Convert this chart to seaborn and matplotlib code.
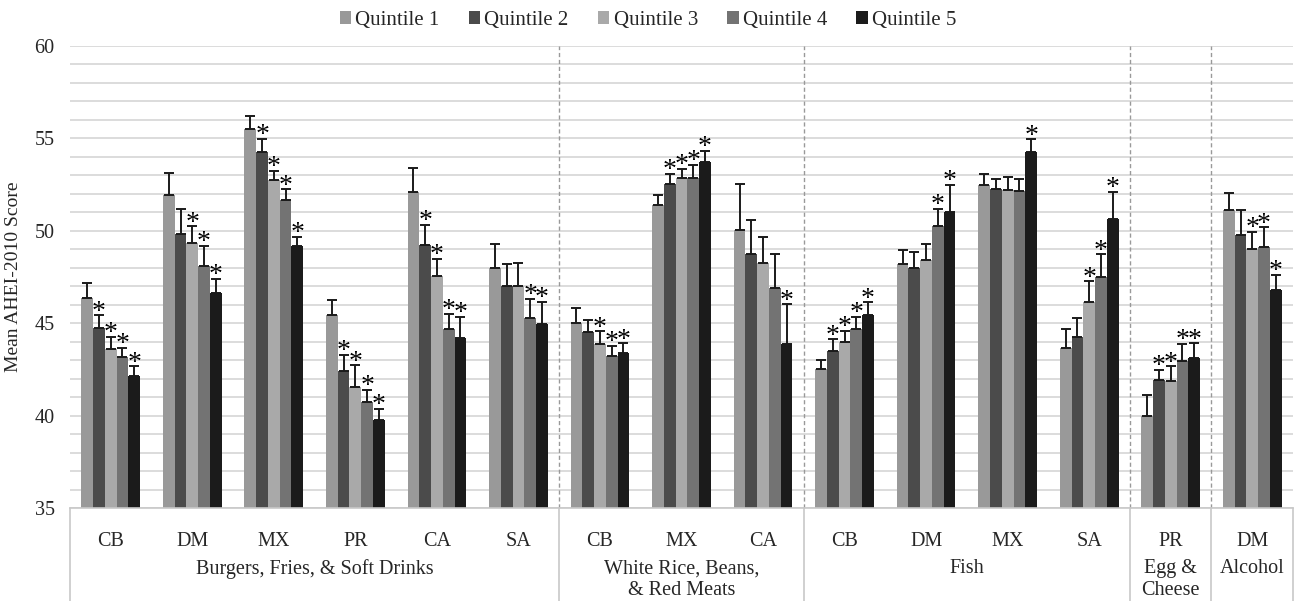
import numpy as np
import pandas as pd
import matplotlib
matplotlib.use("Agg")
import matplotlib.pyplot as plt
import seaborn as sns

# Kategori (sumbu x) dan kelompok pola makan
cats = ["CB", "DM", "MX", "PR", "CA", "SA", "CB", "MX", "CA", "CB", "DM", "MX", "SA", "PR", "DM"]
group_names = ["Burgers, Fries, & Soft Drinks", "White Rice, Beans,\n& Red Meats", "Fish",
               "Egg &\nCheese", "Alcohol"]
group_sizes = [6, 3, 4, 1, 1]
quintiles = ["Quintile 1", "Quintile 2", "Quintile 3", "Quintile 4", "Quintile 5"]

# Rata-rata skor per kuintil
q1 = [46.37, 51.96, 55.52, 45.45, 52.11, 48.00, 45.00, 51.42, 50.02, 42.53, 48.18, 52.49, 43.67, 39.97, 51.13]
q2 = [44.75, 49.82, 54.29, 42.39, 49.24, 47.00, 44.51, 52.52, 48.77, 43.50, 48.01, 52.27, 44.28, 41.90, 49.78]
q3 = [43.63, 49.35, 52.74, 41.54, 47.56, 47.00, 43.88, 52.83, 48.27, 44.00, 48.41, 52.23, 46.17, 41.85, 49.00]
q4 = [43.18, 48.10, 51.69, 40.71, 44.68, 45.29, 43.25, 52.88, 46.90, 44.66, 50.27, 52.13, 47.49, 42.96, 49.15]
q5 = [42.15, 46.61, 49.17, 39.74, 44.19, 44.98, 43.41, 53.70, 43.85, 45.42, 50.99, 54.25, 50.63, 43.13, 46.77]

# Error bar atas
e1 = [0.80, 1.19, 0.68, 0.80, 1.30, 1.30, 0.83, 0.53, 2.52, 0.50, 0.77, 0.59, 1.01, 1.13, 0.94]
e2 = [0.67, 1.38, 0.69, 0.91, 1.10, 1.21, 0.64, 0.58, 1.83, 0.62, 0.85, 0.52, 1.01, 0.58, 1.35]
e3 = [0.63, 0.90, 0.52, 1.19, 0.92, 1.25, 0.69, 0.52, 1.40, 0.59, 0.90, 0.67, 1.10, 0.81, 0.95]
e4 = [0.50, 1.09, 0.55, 0.70, 0.83, 1.03, 0.53, 0.69, 1.83, 0.70, 0.93, 0.65, 1.23, 0.92, 1.03]
e5 = [0.52, 0.79, 0.50, 0.64, 1.16, 1.19, 0.51, 0.63, 2.18, 0.72, 1.50, 0.69, 1.48, 0.79, 0.86]

# Tanda signifikan (*)
s1 = [0] * 15
s2 = [1, 0, 1, 1, 1, 0, 0, 1, 0, 1, 0, 0, 0, 1, 0]
s3 = [1, 1, 1, 1, 1, 0, 1, 1, 0, 1, 0, 0, 1, 1, 1]
s4 = [1, 1, 1, 1, 1, 1, 1, 1, 0, 1, 1, 0, 1, 1, 1]
s5 = [1] * 15

colors = ["#999999", "#4b4b4b", "#a9a9a9", "#737373", "#1b1b1b"]

means = [q1, q2, q3, q4, q5]
errs = [e1, e2, e3, e4, e5]
stars = [s1, s2, s3, s4, s5]

keys = [f"{i:02d}_{c}" for i, c in enumerate(cats)]
rows = []
for qi, q in enumerate(quintiles):
    for k, v in zip(keys, means[qi]):
        rows.append({"key": k, "quintile": q, "score": v})
df = pd.DataFrame(rows)

sns.set_style("white")
plt.rcParams["font.family"] = ["Liberation Serif", "DejaVu Serif"]

fig = plt.figure(figsize=(12.96, 6.01), dpi=100)
ax = fig.add_axes([0.054, 0.1547, 0.9437, 0.7688])

sns.barplot(data=df, x="key", y="score", hue="quintile", order=keys, hue_order=quintiles,
            palette=colors, width=0.72, gap=0, errorbar=None, linewidth=0, ax=ax, legend=True)

ax.set_ylim(35, 60)
ax.set_xlim(-0.5, len(keys) - 0.5)
ax.set_yticks(np.arange(35, 61, 5))
ax.set_yticks(np.arange(35, 61, 1), minor=True)
ax.yaxis.grid(True, which="both", color="#d9d9d9", linewidth=1.3)
ax.set_axisbelow(True)
ax.tick_params(axis="y", which="both", length=0, labelsize=14.5, pad=11)
ax.tick_params(axis="x", length=0, labelbottom=False)
ax.set_xlabel("")
ax.set_ylabel("Mean AHEI-2010 Score", fontsize=14, labelpad=9)
for sp in ["top", "right", "left"]:
    ax.spines[sp].set_visible(False)
ax.spines["bottom"].set_color("#c8c8c8")
ax.spines["bottom"].set_linewidth(1.2)

# Error bar dan bintang
bar_conts = list(ax.containers)
for qi, cont in enumerate(bar_conts):
    for bi, bar in enumerate(cont.patches):
        xc = bar.get_x() + bar.get_width() / 2
        top = bar.get_height()
        ax.errorbar(xc, top, yerr=[[0], [errs[qi][bi]]], fmt="none", ecolor="#1a1a1a",
                    elinewidth=1.4, capsize=3.5, capthick=1.4)
        if stars[qi][bi]:
            ax.annotate("*", (xc, top + errs[qi][bi]), xytext=(0, -6.8), textcoords="offset points",
                        ha="center", va="bottom", fontsize=20, color="black")

# Garis pemisah kelompok
xt = ax.get_xaxis_transform()
bounds = np.cumsum([0] + group_sizes) - 0.5
for b in bounds[1:-1]:
    ax.plot([b, b], [0, 1], transform=xt, color="#999999", linestyle=(0, (3, 2)),
            linewidth=1, clip_on=False)
for b in bounds:
    ax.plot([b, b], [0, -0.21], transform=xt, color="#c8c8c8", linewidth=1.2, clip_on=False)

# Label kategori dan kelompok di bawah sumbu
for i, c in enumerate(cats):
    ax.text(i, -0.073, c, transform=xt, ha="center", va="center", fontsize=14.5)
for gi, g in enumerate(group_names):
    xmid = (bounds[gi] + bounds[gi + 1]) / 2
    ax.text(xmid, -0.111, g, transform=xt, ha="center", va="top", fontsize=14.5,
            linespacing=1.22)

# Legend
handles, labels = ax.get_legend_handles_labels()
fig.legend(handles, labels, loc="upper center", bbox_to_anchor=(0.5, 1.013), ncol=5,
           frameon=False, fontsize=15, handlelength=0.55, handleheight=0.55,
           handletextpad=0.2, columnspacing=1.4)
ax.get_legend().remove()

fig.savefig("out.png", dpi=100)
